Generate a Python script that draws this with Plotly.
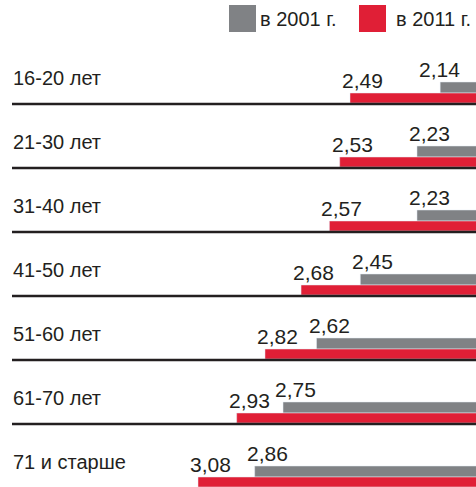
import plotly.graph_objects as go

categories = ["16-20 лет", "21-30 лет", "31-40 лет", "41-50 лет", "51-60 лет", "61-70 лет", "71 и старше"]
values_2001 = [2.14, 2.23, 2.23, 2.45, 2.62, 2.75, 2.86]
values_2011 = [2.49, 2.53, 2.57, 2.68, 2.82, 2.93, 3.08]
series_names = ["в 2001 г.", "в 2011 г."]

GRAY = "#808285"
RED = "#e01f36"
INK = "#231f20"
W, H = 476, 487
ROW_PX = 64.0
ROW0_PX = 78.0
XMAX, XMIN = 3.8486, 2.0009

NUMF = "Liberation Sans, Arial, sans-serif"
REG = "Liberation Sans, Arial, sans-serif"

idx = list(range(len(categories)))
g_off, g_w = 4 / ROW_PX, 11 / ROW_PX
r_off, r_w = 15 / ROW_PX, 10 / ROW_PX

fig = go.Figure()
fig.add_trace(go.Bar(y=idx, x=values_2001, orientation="h", marker_color=GRAY,
                     offset=g_off, width=g_w, name=series_names[0], showlegend=False,
                     hoverinfo="skip"))
fig.add_trace(go.Bar(y=idx, x=values_2011, orientation="h", marker_color=RED,
                     offset=r_off, width=r_w, name=series_names[1], showlegend=False,
                     hoverinfo="skip"))

fmt = lambda v: f"{v:.2f}".replace(".", ",")

def label_shift(v):
    px = (XMAX - v) / (XMAX - XMIN) * W
    return -10 - max(0, px + 30 - 457)

ann = []
for i, cat in enumerate(categories):
    ann.append(dict(x=13 / W, xref="paper", y=i, yref="y", text=cat, showarrow=False,
                    xanchor="left", yanchor="middle", xshift=-2,
                    font=dict(family=REG, size=20, color=INK)))
    for vals, off in [(values_2001, g_off), (values_2011, r_off)]:
        ann.append(dict(x=vals[i], y=i + off, text=fmt(vals[i]), showarrow=False,
                        xanchor="left", yanchor="bottom", xshift=label_shift(vals[i]), yshift=-1,
                        font=dict(family=NUMF, size=21, color=INK)))

shapes = []
for i in idx[:-1]:
    shapes.append(dict(type="line", xref="paper", yref="y", x0=12 / W, x1=1,
                       y0=i + 26 / ROW_PX, y1=i + 26 / ROW_PX,
                       line=dict(color=INK, width=2.5), layer="above"))

def py(p):
    return 1 - p / H

for x0, col, name, tx in [(229, GRAY, series_names[0], 258), (359, RED, series_names[1], 394)]:
    shapes.append(dict(type="rect", xref="paper", yref="paper", x0=x0 / W, x1=(x0 + 27) / W,
                       y0=py(32), y1=py(5), fillcolor=col, line=dict(width=0)))
    ann.append(dict(x=tx / W, xref="paper", y=py(19.5), yref="paper", text=name, showarrow=False,
                    xanchor="left", yanchor="middle", font=dict(family=REG, size=20, color=INK)))

fig.update_layout(
    width=W, height=H, margin=dict(l=0, r=0, t=0, b=0),
    paper_bgcolor="white", plot_bgcolor="white",
    xaxis=dict(range=[XMAX, XMIN], visible=False, fixedrange=True),
    yaxis=dict(range=[(H - ROW0_PX) / ROW_PX, -ROW0_PX / ROW_PX], visible=False, fixedrange=True),
    barmode="overlay", annotations=ann, shapes=shapes, showlegend=False,
    hovermode=False,
)
fig.write_html("out.html", config={"displayModeBar": False},
               post_script="document.body.style.margin='0';document.body.style.overflow='hidden';")
